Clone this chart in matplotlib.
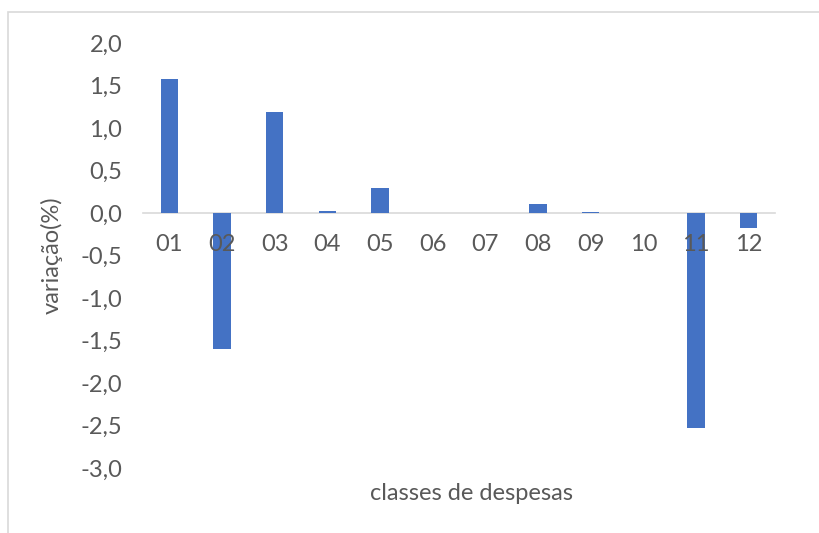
import numpy as np
import matplotlib
matplotlib.use("Agg")
import matplotlib.pyplot as plt
from matplotlib.patches import Rectangle

classes = ["01", "02", "03", "04", "05", "06", "07", "08", "09", "10", "11", "12"]
variacao = [1.58, -1.60, 1.19, 0.02, 0.29, 0.0, 0.0, 0.11, 0.01, 0.0, -2.53, -0.18]
y_ticks = [2.0, 1.5, 1.0, 0.5, 0.0, -0.5, -1.0, -1.5, -2.0, -2.5, -3.0]

plt.rcParams['font.family'] = ['Lato', 'DejaVu Sans']
text_color = "#595959"
fs = 17

fig = plt.figure(figsize=(8.19, 5.33), dpi=100)
ax = fig.add_axes([143 / 819, 1 - 468 / 533, 632 / 819, 425 / 533])

x = np.arange(len(classes))
ax.bar(x, variacao, width=0.33, color="#4472C4", zorder=1)

ax.set_xlim(-0.5, len(classes) - 0.5)
ax.set_ylim(-3.0, 2.0)
ax.set_yticks(y_ticks)
ax.set_yticklabels([f"{v:.1f}".replace(".", ",") for v in y_ticks])
ax.set_xticks(x)
ax.set_xticklabels(classes)
ax.xaxis.set_zorder(5)

for s in ["top", "right", "left"]:
    ax.spines[s].set_visible(False)
ax.spines["bottom"].set_position(("data", 0))
ax.spines["bottom"].set_color("#D9D9D9")
ax.spines["bottom"].set_linewidth(1.2)
ax.spines["bottom"].set_zorder(0.5)

ax.tick_params(axis="x", length=0, pad=15, labelsize=fs, labelcolor=text_color)
ax.tick_params(axis="y", length=0, pad=15, labelsize=fs, labelcolor=text_color)

ax.set_ylabel("variação(%)", fontsize=fs, color=text_color, labelpad=13)
fig.text(472 / 819, 1 - 493 / 533, "classes de despesas", fontsize=fs,
         color=text_color, ha="center", va="center")

# moldura do gráfico
fig.patches.append(Rectangle((8 / 819, -0.1), 1.2, 1 - 12 / 533 + 0.1,
                             transform=fig.transFigure, fill=False,
                             edgecolor="#D9D9D9", linewidth=1.2))

fig.savefig("out.png", dpi=100)
